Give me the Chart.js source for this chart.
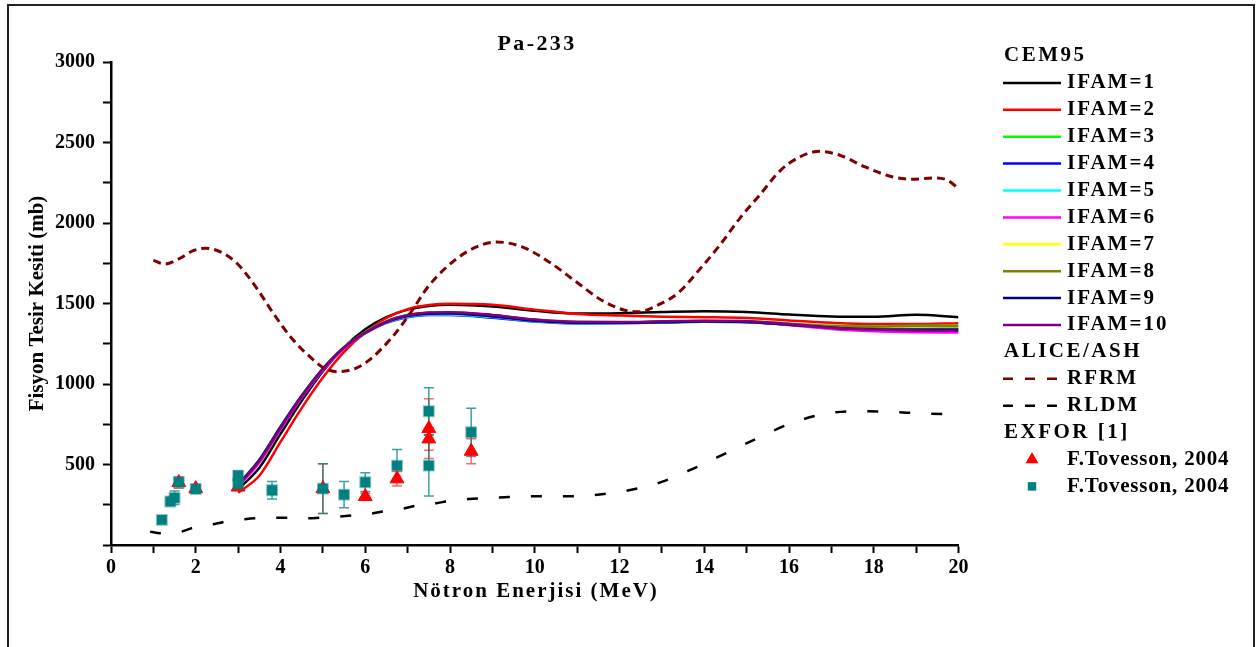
<!DOCTYPE html>
<html>
<head>
<meta charset="utf-8">
<title>Pa-233</title>
<script src="https://cdn.jsdelivr.net/npm/chart.js@4.4.0/dist/chart.umd.min.js"></script>
<style>
  html, body { margin: 0; padding: 0; background: #fff; }
  #wrap { width: 1258px; height: 647px; }
</style>
</head>
<body>
<div id="wrap"><canvas id="chart" width="1258" height="647"></canvas></div>
<script>
// ---------- data ----------
const cemEnergy = [3,3.5,4,4.5,5,5.5,6,6.5,7,7.5,8,9,10,11,12,13,14,15,16,17,18,19,20];
const ifam1  = [345,480,690,895,1080,1228,1340,1415,1462,1485,1492,1482,1455,1438,1440,1447,1452,1447,1432,1420,1418,1430,1415];
const ifam2  = [325,430,640,850,1040,1200,1320,1410,1465,1490,1498,1492,1462,1435,1425,1418,1415,1410,1395,1380,1372,1372,1378];
const ifam3  = [372,525,730,925,1095,1228,1320,1388,1425,1440,1440,1422,1396,1382,1380,1384,1390,1388,1375,1362,1358,1362,1362];
const ifam4  = [375,530,735,928,1095,1225,1315,1380,1415,1428,1428,1412,1388,1376,1378,1382,1386,1384,1368,1350,1340,1336,1335];
const ifam5  = [374,528,732,926,1094,1226,1316,1382,1418,1432,1432,1416,1390,1378,1379,1383,1387,1385,1370,1352,1342,1338,1338];
const ifam6  = [362,512,718,915,1085,1220,1316,1385,1426,1442,1444,1427,1398,1384,1384,1387,1390,1386,1366,1342,1328,1322,1320];
const ifam7  = [372,526,731,925,1095,1228,1320,1388,1426,1441,1442,1425,1398,1383,1382,1386,1391,1389,1374,1358,1352,1356,1355];
const ifam8  = [372,526,731,925,1095,1228,1321,1389,1428,1443,1444,1427,1399,1384,1383,1387,1392,1390,1375,1360,1356,1360,1358];
const ifam9  = [374,528,733,926,1094,1227,1318,1385,1422,1437,1438,1420,1393,1380,1380,1384,1388,1385,1368,1350,1340,1338,1338];
const ifam10 = [370,522,727,922,1092,1226,1320,1388,1428,1444,1446,1429,1400,1386,1385,1389,1393,1390,1372,1350,1338,1332,1330];
const ifamColors = ['#000000','#ff0000','#00ff00','#0000ff','#00ffff','#ff00ff','#ffff00','#808000','#000080','#800080'];

const rfrmEnergy = [1.0,1.27,1.63,1.94,2.24,2.65,2.97,3.24,3.6,3.83,4.3,4.78,5.0,5.35,5.8,6.1,6.6,7.05,7.5,8.15,8.7,9.1,9.7,10.35,11.0,11.6,12.1,12.45,12.95,13.4,13.9,14.36,14.83,15.3,15.8,16.25,16.72,17.2,17.8,18.45,18.9,19.45,19.75,20.0];
const rfrmSigma  = [1768,1745,1781,1828,1843,1812,1750,1667,1532,1439,1273,1149,1104,1076,1100,1150,1280,1435,1610,1777,1860,1882,1852,1756,1630,1517,1460,1448,1496,1569,1715,1860,2026,2171,2327,2410,2445,2421,2348,2286,2272,2280,2265,2213];

const rldmEnergy = [0.92,1.16,1.4,1.67,1.9,2.45,2.69,3.2,3.44,3.91,4.65,4.93,5.4,5.68,6.19,6.42,6.9,7.17,7.68,7.92,8.43,9.29,10.04,10.79,11.53,12.28,13.03,13.77,14.52,15.27,16.01,16.76,17.55,18.29,19.04,19.9];
const rldmSigma  = [83,73,72,83,104,131,145,162,166,170,166,170,177,183,197,208,226,243,260,270,285,297,303,303,314,343,395,478,571,665,752,810,831,827,819,810];

// EXFOR F.Tovesson 2004 (two sets), with error bars
const triEnergy = [1.6,2.0,3.0,5.0,6.0,6.75,7.5,7.5,8.5];
const triSigma  = [388,350,360,350,301,411,723,659,582];
const triErr    = [35,28,20,155,20,45,185,70,78];
const sqEnergy  = [1.2,1.4,1.5,1.6,2.0,3.0,3.0,3.8,5.0,5.5,6.0,6.75,7.5,7.5,8.5];
const sqSigma   = [156,270,293,390,347,430,380,340,350,313,390,493,831,493,700];
const sqErr     = [0,0,42,20,15,30,20,55,155,82,58,100,146,188,150];

const xTickLabels = [0,2,4,6,8,10,12,14,16,18,20];
const yTickLabels = [500,1000,1500,2000,2500,3000];

const FONT = '"Liberation Serif", "Times New Roman", serif';

function pts(xs, ys){ return xs.map((x,i)=>({ x, y: ys[i] })); }

// ---------- datasets ----------
const datasets = [];
[ifam1,ifam2,ifam3,ifam4,ifam5,ifam6,ifam7,ifam8,ifam9,ifam10].forEach((vals,i)=>{
  datasets.push({
    label: 'IFAM=' + (i+1), data: pts(cemEnergy, vals), showLine: true,
    borderColor: ifamColors[i], borderWidth: 2.5, pointRadius: 0,
    cubicInterpolationMode: 'monotone', order: 12 - i
  });
});
datasets.push({ label: 'RFRM', data: pts(rfrmEnergy, rfrmSigma), showLine: true, borderColor: '#800000',
  borderWidth: 3, borderDash: [8,5], pointRadius: 0, cubicInterpolationMode: 'monotone', order: 2 });
datasets.push({ label: 'RLDM', data: pts(rldmEnergy, rldmSigma), showLine: true, borderColor: '#000000',
  borderWidth: 2.5, borderDash: [11,21], pointRadius: 0, cubicInterpolationMode: 'monotone', order: 2 });
const triIndex = datasets.length;
datasets.push({ label: 'F.Tovesson, 2004', data: pts(triEnergy, triSigma), pointStyle: 'triangle', pointRadius: 8,
  backgroundColor: '#ff0000', borderColor: '#ff0000', borderWidth: 1, order: 1, errors: triErr, errColor: 'rgba(255,0,0,0.6)' });
datasets.push({ label: 'F.Tovesson, 2004', data: pts(sqEnergy, sqSigma), pointStyle: 'rect', pointRadius: 7,
  backgroundColor: '#008080', borderColor: 'rgba(0,128,128,0.45)', borderWidth: 2, order: 0, errors: sqErr, errColor: 'rgba(0,128,128,0.75)' });

const legendGroups = [
  { title: 'CEM95', items: [0,1,2,3,4,5,6,7,8,9] },
  { title: 'ALICE/ASH', items: [10,11] },
  { title: 'EXFOR [1]', items: [12,13] }
];

// ---------- plugins ----------
const errorBars = {
  id: 'errorBars',
  beforeDatasetDraw(chart, args){
    if(args.index !== triIndex) return;
    const ctx = chart.ctx, xs = chart.scales.x, ys = chart.scales.y;
    ctx.save();
    ctx.lineWidth = 1.5;
    [triIndex, triIndex+1].forEach(di=>{
      const ds = chart.data.datasets[di];
      ctx.strokeStyle = ds.errColor;
      ds.data.forEach((p,i)=>{
        const e = ds.errors[i];
        if(!e) return;
        const px = xs.getPixelForValue(p.x);
        const y1 = ys.getPixelForValue(p.y + e), y2 = ys.getPixelForValue(p.y - e);
        ctx.beginPath();
        ctx.moveTo(px, y1); ctx.lineTo(px, y2);
        ctx.moveTo(px-5, y1); ctx.lineTo(px+5, y1);
        ctx.moveTo(px-5, y2); ctx.lineTo(px+5, y2);
        ctx.stroke();
      });
    });
    ctx.restore();
  }
};

function marker(ctx, style, r, x, y, fill){
  ctx.fillStyle = fill;
  ctx.beginPath();
  if(style === 'triangle'){
    ctx.moveTo(x, y - r);
    ctx.lineTo(x + r*0.866, y + r*0.5);
    ctx.lineTo(x - r*0.866, y + r*0.5);
    ctx.closePath();
  } else {
    const s = r * Math.SQRT1_2;
    ctx.rect(x - s, y - s, 2*s, 2*s);
  }
  ctx.fill();
}

const decor = {
  id: 'decor',
  afterDraw(chart){
    const ctx = chart.ctx;
    ctx.save();
    // outer frame
    ctx.strokeStyle = '#222';
    ctx.lineWidth = 2;
    ctx.strokeRect(8, 5, 1246, 680);

    ctx.fillStyle = '#000';
    ctx.textBaseline = 'middle';
    ctx.textAlign = 'center';
    ctx.font = 'bold 22px ' + FONT;
    ctx.letterSpacing = '2.4px';
    ctx.fillText('Pa-233', 537, 44);
    ctx.font = 'bold 21px ' + FONT;
    ctx.letterSpacing = '2px';
    ctx.fillText('Nötron Enerjisi (MeV)', 536, 592);

    // legend
    ctx.textAlign = 'left';
    let row = 0;
    const rowY = r => 56 + 26.9 * r;
    legendGroups.forEach(g=>{
      ctx.fillStyle = '#000';
      ctx.letterSpacing = '2.5px';
      ctx.fillText(g.title, 1004, rowY(row++));
      g.items.forEach(di=>{
        const ds = chart.data.datasets[di];
        const y = rowY(row++);
        if(ds.showLine){
          ctx.strokeStyle = ds.borderColor;
          ctx.lineWidth = 2.5;
          ctx.setLineDash(ds.borderDash ? [10,12] : []);
          ctx.beginPath(); ctx.moveTo(1003, y); ctx.lineTo(1061, y); ctx.stroke();
          ctx.setLineDash([]);
          ctx.letterSpacing = '2px';
        } else {
          marker(ctx, ds.pointStyle, ds.pointStyle === 'triangle' ? 7.5 : 6, 1032, y, ds.backgroundColor);
          ctx.letterSpacing = '0.8px';
        }
        ctx.fillStyle = '#000';
        ctx.fillText(ds.label, 1067, y);
      });
    });
    ctx.restore();
  }
};

// ---------- chart ----------
new Chart(document.getElementById('chart'), {
  type: 'scatter',
  data: { datasets },
  options: {
    responsive: false,
    animation: false,
    devicePixelRatio: 1,
    layout: { padding: { left: 11, right: 299.5, top: 62, bottom: 62 } },
    plugins: { legend: { display: false }, tooltip: { enabled: false } },
    scales: {
      x: {
        type: 'linear', min: 0, max: 20,
        afterFit: s => { s.height = 40; },
        grid: { drawOnChartArea: false, tickLength: 8, tickWidth: 2, tickColor: '#000' },
        border: { color: '#000', width: 2.5 },
        ticks: {
          stepSize: 1, autoSkip: false, maxRotation: 0, padding: 3, color: '#000',
          font: { family: FONT, size: 20, weight: 'bold' },
          callback: v => xTickLabels.includes(v) ? String(v) : ''
        }
      },
      y: {
        type: 'linear', min: 0, max: 3000,
        afterFit: s => { s.width = 100; },
        grid: { drawOnChartArea: false, tickLength: 8, tickWidth: 2, tickColor: '#000' },
        border: { color: '#000', width: 2.5 },
        ticks: {
          stepSize: 250, autoSkip: false, padding: 8, color: '#000',
          font: { family: FONT, size: 20, weight: 'bold' },
          callback: v => yTickLabels.includes(v) ? String(v) : ''
        },
        title: {
          display: true, text: 'Fisyon Tesir Kesiti (mb)', color: '#000',
          font: { family: FONT, size: 21, weight: 'bold' },
          padding: { top: 14, bottom: 0 }
        }
      }
    }
  },
  plugins: [errorBars, decor]
});
</script>
</body>
</html>
